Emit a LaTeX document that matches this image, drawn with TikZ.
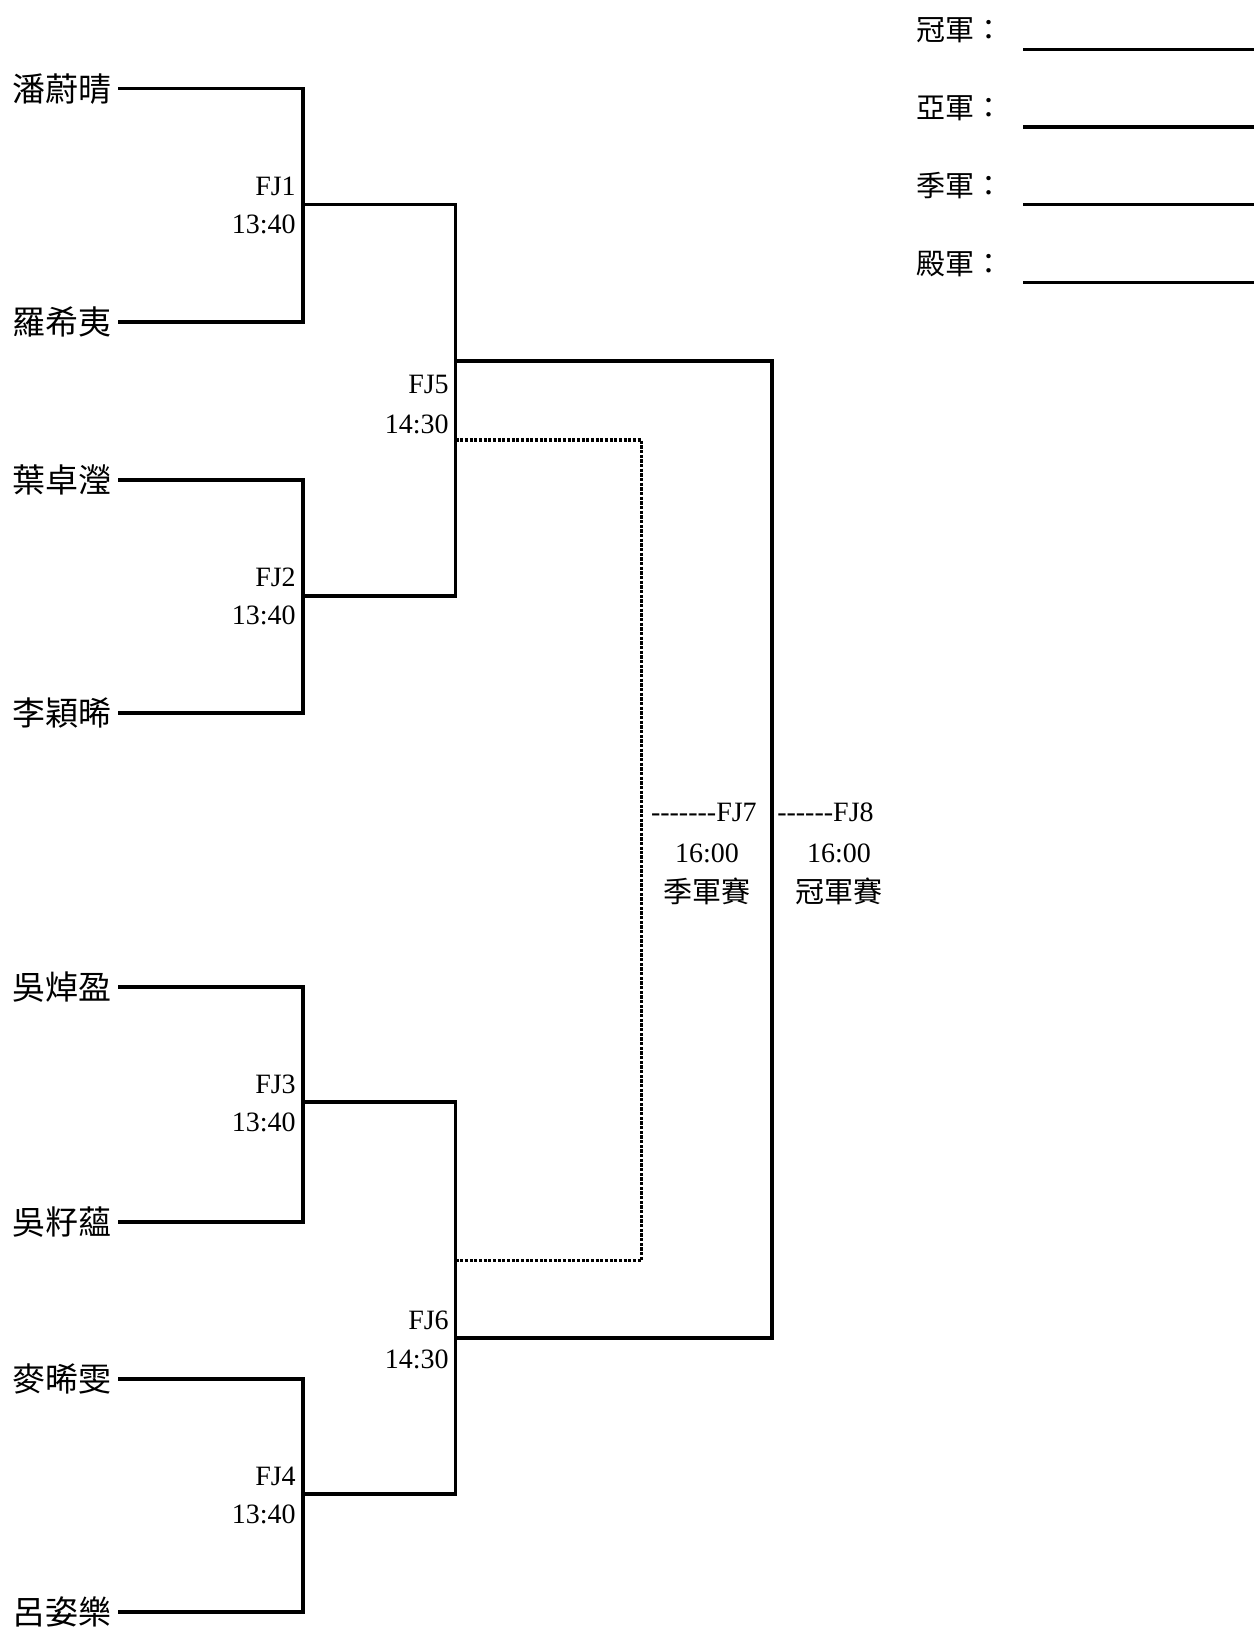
\documentclass[tikz,border=0pt]{standalone}
\usepackage{fontspec}
\setmainfont{Liberation Serif}
\newfontfamily\cjk{Noto Sans CJK TC}
\newcommand\hy{-\kern0pt}
\begin{document}
\begin{tikzpicture}[x=0.75pt,y=-0.75pt,
  bline/.style={line width=2.4pt,line join=miter},
  dline/.style={line width=2.4pt,dash pattern=on 2.4pt off 1.1pt},
  pname/.style={inner sep=0pt,anchor=base west,font=\cjk\fontsize{24.75}{28}\selectfont},
  mlab/.style={inner sep=0pt,anchor=base east,font=\fontsize{21}{25}\selectfont},
  clab/.style={inner sep=0pt,anchor=base,font=\fontsize{21}{25}\selectfont},
  ccjk/.style={inner sep=0pt,anchor=base,font=\cjk\fontsize{21.75}{25}\selectfont},
  rlab/.style={inner sep=0pt,anchor=base west,font=\cjk\fontsize{21.75}{25}\selectfont}]
\useasboundingbox (0,0) rectangle (1254,1628);
% players
\node[pname] (n1) at (12,101) {潘蔚晴};
\node[pname] (n2) at (12,334.5) {羅希夷};
\node[pname] (n3) at (12,492.5) {葉卓瀅};
\node[pname] (n4) at (12,725.5) {李穎晞};
\node[pname] (n5) at (12,999.5) {吳焯盈};
\node[pname] (n6) at (12,1234.5) {吳籽蘊};
\node[pname] (n7) at (12,1391.5) {麥晞雯};
\node[pname] (n8) at (12,1624.5) {呂姿樂};
\coordinate (p1) at (118,88.5);
\coordinate (p2) at (118,322);
\coordinate (p3) at (118,480);
\coordinate (p4) at (118,713);
\coordinate (p5) at (118,987);
\coordinate (p6) at (118,1222);
\coordinate (p7) at (118,1379);
\coordinate (p8) at (118,1612);
% match joints
\coordinate (m1) at (303,204.5);
\coordinate (m2) at (303,596);
\coordinate (m3) at (303,1102);
\coordinate (m4) at (303,1494);
\coordinate (m5) at (455.5,361);
\coordinate (m6) at (455.5,1338);
\coordinate (l5) at (455.5,440);
\coordinate (l6) at (455.5,1260.5);
\coordinate (m7) at (641.5,850);
\coordinate (m8) at (772,850);
% bracket lines
\draw[bline] (p1) -| (m1);
\draw[bline] (p2) -| (m1);
\draw[bline] (p3) -| (m2);
\draw[bline] (p4) -| (m2);
\draw[bline] (p5) -| (m3);
\draw[bline] (p6) -| (m3);
\draw[bline] (p7) -| (m4);
\draw[bline] (p8) -| (m4);
\draw[bline] (m1) -| (m5);
\draw[bline] (m2) -| (m5);
\draw[bline] (m3) -| (m6);
\draw[bline] (m4) -| (m6);
\draw[bline] (m5) -| (m8);
\draw[bline] (m6) -| (m8);
\draw[dline] (l5) -| (m7);
\draw[dline] (l6) -| (m7);
% match labels
\node[mlab] (f1) at (296,195) {FJ1};
\node[mlab] (t1) at (296,233) {13:40};
\node[mlab] (f2) at (296,586.5) {FJ2};
\node[mlab] (t2) at (296,624.5) {13:40};
\node[mlab] (f3) at (296,1093) {FJ3};
\node[mlab] (t3) at (296,1131) {13:40};
\node[mlab] (f4) at (296,1485) {FJ4};
\node[mlab] (t4) at (296,1523) {13:40};
\node[mlab] (f5) at (449,393) {FJ5};
\node[mlab] (t5) at (449,433) {14:30};
\node[mlab] (f6) at (449,1329.5) {FJ6};
\node[mlab] (t6) at (449,1368) {14:30};
\node[mlab] (f7) at (757,821.7) {\hy\hy\hy\hy\hy\hy\hy FJ7};
\node[clab] (t7) at (707,862.7) {16:00};
\node[ccjk] (c7) at (707,902) {季軍賽};
\node[inner sep=0pt,anchor=base west,font=\fontsize{21}{25}\selectfont] (f8) at (777,821.7) {\hy\hy\hy\hy\hy\hy FJ8};
\node[clab] (t8) at (839,862.7) {16:00};
\node[ccjk] (c8) at (839,902) {冠軍賽};
% result lines
\node[rlab] (r1) at (916,40) {冠軍：};
\node[rlab] (r2) at (916,118.5) {亞軍：};
\node[rlab] (r3) at (916,196) {季軍：};
\node[rlab] (r4) at (916,274) {殿軍：};
\coordinate (u1a) at (1023,49.3); \coordinate (u1b) at (1254,49.3);
\coordinate (u2a) at (1023,127); \coordinate (u2b) at (1254,127);
\coordinate (u3a) at (1023,204.5); \coordinate (u3b) at (1254,204.5);
\coordinate (u4a) at (1023,282.5); \coordinate (u4b) at (1254,282.5);
\draw[bline] (u1a) -- (u1b);
\draw[bline] (u2a) -- (u2b);
\draw[bline] (u3a) -- (u3b);
\draw[bline] (u4a) -- (u4b);
\end{tikzpicture}
\end{document}
